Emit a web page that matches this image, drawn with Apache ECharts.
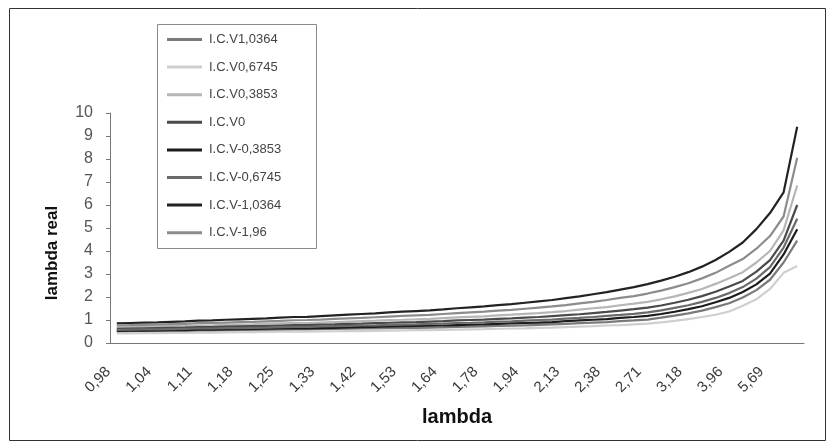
<!DOCTYPE html>
<html>
<head>
    <meta charset="UTF-8">
    <title>lambda real</title>
    <script src="https://cdn.jsdelivr.net/npm/echarts@6/dist/echarts.min.js"></script>
    <style>
        html, body { margin: 0; padding: 0; background: #fff; }
    </style>
</head>
<body>
<div id="chart" style="width: 833px; height: 445px;"></div>

<script>
    // lambda categories (only every 3rd label is shown)
    const lambdas = ['0,98','1,00','1,02','1,04','1,06','1,08','1,11','1,13','1,15','1,18',
        '1,20','1,22','1,25','1,28','1,30','1,33','1,36','1,39','1,42','1,46',
        '1,49','1,53','1,56','1,60','1,64','1,69','1,73','1,78','1,83','1,88',
        '1,94','2,00','2,06','2,13','2,21','2,29','2,38','2,48','2,59','2,71',
        '2,85','3,00','3,18','3,39','3,65','3,96','4,37','4,93','5,69','6,85','8,80'];

    const yTicks = [0, 1, 2, 3, 4, 5, 6, 7, 8, 9, 10];

    const names = ['I.C.V1,0364', 'I.C.V0,6745', 'I.C.V0,3853', 'I.C.V0',
        'I.C.V-0,3853', 'I.C.V-0,6745', 'I.C.V-1,0364', 'I.C.V-1,96'];
    const colors = ['#7a7a7a', '#cfcfcf', '#b6b6b6', '#4a4a4a',
        '#1c1c1c', '#6a6a6a', '#222222', '#8c8c8c'];

    const icv_1_0364 = [0.49,0.50,0.51,0.51,0.52,0.52,0.54,0.54,0.55,0.55,
        0.56,0.57,0.58,0.59,0.59,0.60,0.61,0.62,0.63,0.63,
        0.65,0.66,0.66,0.67,0.68,0.70,0.71,0.72,0.74,0.75,
        0.77,0.79,0.81,0.83,0.86,0.89,0.91,0.95,0.98,1.02,
        1.10,1.19,1.29,1.41,1.56,1.73,1.98,2.30,2.75,3.50,4.45];
    const icv_0_6745 = [0.42,0.42,0.43,0.43,0.44,0.44,0.45,0.45,0.46,0.47,
        0.47,0.48,0.49,0.49,0.49,0.50,0.51,0.52,0.52,0.53,
        0.54,0.55,0.56,0.56,0.57,0.58,0.59,0.60,0.62,0.63,
        0.64,0.66,0.67,0.69,0.71,0.73,0.76,0.78,0.81,0.84,
        0.90,0.96,1.04,1.13,1.23,1.37,1.62,1.90,2.35,3.05,3.35];
    const icv_0_3853 = [0.68,0.69,0.71,0.71,0.73,0.74,0.76,0.77,0.79,0.80,
        0.81,0.83,0.85,0.87,0.87,0.89,0.91,0.93,0.95,0.97,
        1.00,1.01,1.03,1.05,1.08,1.11,1.14,1.16,1.20,1.23,
        1.27,1.30,1.34,1.39,1.45,1.51,1.56,1.64,1.71,1.79,
        1.90,2.03,2.18,2.35,2.57,2.82,3.08,3.50,4.00,4.90,6.85];
    const icv_0 = [0.62,0.63,0.64,0.65,0.66,0.67,0.69,0.69,0.71,0.72,
        0.73,0.74,0.76,0.78,0.78,0.80,0.81,0.83,0.84,0.86,
        0.88,0.90,0.91,0.93,0.95,0.98,1.00,1.02,1.05,1.07,
        1.10,1.13,1.17,1.21,1.25,1.30,1.35,1.41,1.47,1.54,
        1.63,1.75,1.88,2.04,2.23,2.46,2.70,3.10,3.60,4.45,6.00];
    const icv_m0_3853 = [0.53,0.54,0.54,0.55,0.56,0.56,0.58,0.58,0.59,0.60,
        0.61,0.62,0.63,0.64,0.64,0.65,0.66,0.68,0.69,0.70,
        0.72,0.73,0.74,0.75,0.76,0.78,0.80,0.81,0.83,0.85,
        0.87,0.89,0.91,0.95,0.98,1.01,1.04,1.09,1.13,1.18,
        1.26,1.36,1.47,1.60,1.77,1.96,2.22,2.55,3.02,3.85,4.95];
    const icv_m0_6745 = [0.57,0.58,0.59,0.59,0.60,0.61,0.63,0.63,0.65,0.65,
        0.66,0.67,0.69,0.70,0.70,0.72,0.73,0.74,0.76,0.77,
        0.79,0.80,0.81,0.83,0.84,0.87,0.88,0.90,0.93,0.94,
        0.97,1.00,1.02,1.06,1.09,1.13,1.18,1.22,1.27,1.33,
        1.42,1.53,1.64,1.79,1.96,2.17,2.43,2.80,3.30,4.15,5.40];
    const icv_m1_0364 = [0.85,0.87,0.89,0.90,0.92,0.94,0.97,0.98,1.01,1.03,
        1.05,1.07,1.10,1.13,1.14,1.17,1.20,1.23,1.26,1.29,
        1.33,1.36,1.39,1.42,1.46,1.51,1.55,1.59,1.65,1.69,
        1.75,1.81,1.87,1.95,2.03,2.12,2.21,2.32,2.43,2.56,
        2.71,2.88,3.08,3.32,3.61,3.96,4.37,4.95,5.65,6.55,9.40];
    const icv_m1_96 = [0.76,0.78,0.79,0.80,0.82,0.83,0.86,0.87,0.89,0.91,
        0.92,0.94,0.96,0.99,1.00,1.02,1.05,1.07,1.09,1.12,
        1.15,1.18,1.20,1.22,1.26,1.30,1.33,1.36,1.41,1.44,
        1.49,1.54,1.59,1.65,1.72,1.79,1.87,1.96,2.04,2.15,
        2.28,2.43,2.60,2.81,3.05,3.36,3.65,4.10,4.65,5.50,8.05];

    const seriesData = [icv_1_0364, icv_0_6745, icv_0_3853, icv_0,
        icv_m0_3853, icv_m0_6745, icv_m1_0364, icv_m1_96];

    const font = "'Liberation Sans', Arial, sans-serif";

    const chart = echarts.init(document.getElementById('chart'));
    const option = {
        animation: false,
        backgroundColor: '#fff',
        grid: {
            left: 110,
            right: 29,
            top: 113,
            bottom: 102
        },
        legend: {
            orient: 'vertical',
            left: 167,
            top: 32,
            padding: 0,
            icon: 'rect',
            itemWidth: 35,
            itemHeight: 3,
            itemGap: 12.6,
            data: names,
            textStyle: {
                fontFamily: font,
                fontSize: 13,
                lineHeight: 15,
                color: '#444',
                padding: [0, 0, 0, 2]
            }
        },
        xAxis: {
            type: 'category',
            data: lambdas,
            boundaryGap: true,
            name: 'lambda',
            nameLocation: 'middle',
            nameGap: 64,
            nameTextStyle: {
                fontFamily: font,
                fontSize: 20,
                fontWeight: 'bold',
                color: '#111'
            },
            axisLine: { lineStyle: { color: '#777', width: 1 } },
            axisTick: { interval: 0, length: 5, lineStyle: { color: '#777' } },
            axisLabel: {
                interval: 2,
                rotate: 45,
                margin: 18,
                padding: [0, 12, 0, 0],
                fontFamily: font,
                fontSize: 15,
                color: '#3a3a3a'
            },
            splitLine: { show: false }
        },
        yAxis: {
            type: 'value',
            min: yTicks[0],
            max: yTicks[yTicks.length - 1],
            interval: 1,
            axisLine: { show: true, lineStyle: { color: '#777', width: 1 } },
            axisTick: { show: true, length: 4, lineStyle: { color: '#777' } },
            axisLabel: {
                margin: 17,
                fontFamily: font,
                fontSize: 16,
                color: '#555'
            },
            splitLine: { show: false }
        },
        graphic: [
            {
                type: 'rect',
                shape: { x: 9.5, y: 8.5, width: 816, height: 432 },
                style: { fill: 'none', stroke: '#333', lineWidth: 1 },
                silent: true
            },
            {
                type: 'rect',
                shape: { x: 157.5, y: 24.5, width: 159, height: 224 },
                style: { fill: 'none', stroke: '#8a8a8a', lineWidth: 1 },
                silent: true
            },
            {
                type: 'text',
                x: 52,
                y: 253,
                rotation: Math.PI / 2,
                style: {
                    text: 'lambda real',
                    fontFamily: font,
                    fontSize: 17,
                    fontWeight: 'bold',
                    fill: '#111',
                    align: 'center',
                    verticalAlign: 'middle'
                }
            }
        ],
        series: names.map((n, i) => ({
            name: n,
            type: 'line',
            data: seriesData[i],
            showSymbol: false,
            symbol: 'none',
            color: colors[i],
            lineStyle: { width: 2.2, color: colors[i] }
        }))
    };

    chart.setOption(option);
</script>
</body>
</html>
